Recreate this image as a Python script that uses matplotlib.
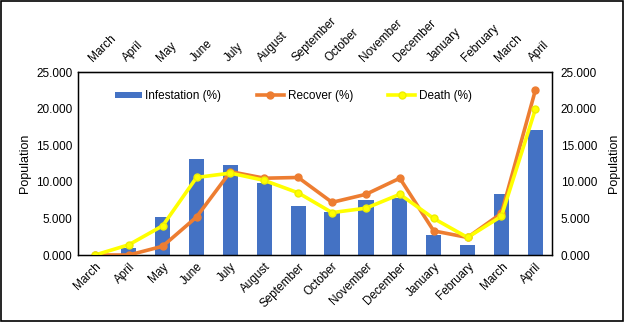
import numpy as np
import matplotlib
matplotlib.use("Agg")
import matplotlib.pyplot as plt
from matplotlib.patches import Rectangle
from matplotlib.ticker import FormatStrFormatter

months = ["March", "April", "May", "June", "July", "August", "September",
          "October", "November", "December", "January", "February", "March", "April"]
infestation = [0.0, 1.0, 5.2, 13.1, 12.3, 9.9, 6.7, 5.9, 7.5, 7.8, 2.7, 1.4, 8.3, 17.1]
recover = [0.0, 0.0, 1.2, 5.2, 11.4, 10.5, 10.6, 7.2, 8.3, 10.5, 3.3, 2.4, 5.7, 22.5]
death = [0.0, 1.4, 4.0, 10.6, 11.2, 10.2, 8.5, 5.8, 6.4, 8.3, 5.0, 2.4, 5.3, 19.9]

plt.rcParams['font.family'] = ['Liberation Sans', 'DejaVu Sans']

fig = plt.figure(figsize=(6.24, 3.22), dpi=100)
ax = fig.add_axes([0.125, 0.208, 0.76, 0.568])

x = np.arange(len(months))
b = ax.bar(x, infestation, width=0.45, color='#4472C4', label='Infestation (%)', zorder=2)
l1, = ax.plot(x, recover, color='#ED7D31', lw=2.6, marker='o', ms=5, label='Recover (%)', zorder=3)
l2, = ax.plot(x, death, color='#FFFF00', lw=2.6, marker='o', ms=5, mec='#EEEE00', label='Death (%)', zorder=4)

ax.set_xlim(-0.5, len(months) - 0.5)
ax.set_ylim(0, 25)
ax.set_yticks(np.arange(0, 26, 5))
ax.yaxis.set_major_formatter(FormatStrFormatter('%.3f'))
ax.set_xticks(x)
ax.set_xticklabels(months, rotation=45, ha='right', rotation_mode='anchor', fontsize=8.5)
ax.tick_params(axis='both', length=0, labelsize=8.5, pad=4)
ax.set_ylabel('Population', fontsize=9)
for s in ax.spines.values():
    s.set_color('black')
    s.set_linewidth(1.0)

# right axis mirror
ax_r = ax.twinx()
ax_r.set_ylim(ax.get_ylim())
ax_r.set_yticks(np.arange(0, 26, 5))
ax_r.yaxis.set_major_formatter(FormatStrFormatter('%.3f'))
ax_r.tick_params(axis='y', length=0, labelsize=8.5, pad=6)
ax_r.set_ylabel('Population', fontsize=9, labelpad=8)

# top axis mirror
ax_t = ax.secondary_xaxis('top')
ax_t.set_xticks(x)
ax_t.set_xticklabels(months, rotation=45, ha='left', rotation_mode='anchor', fontsize=8.5)
ax_t.tick_params(length=0, pad=6)

ax.legend([b, l1, l2], ['Infestation (%)', 'Recover (%)', 'Death (%)'],
          loc='upper left', bbox_to_anchor=(0.055, 0.96), ncol=3, frameon=False,
          fontsize=8.5, columnspacing=3.0, handlelength=2.3, handleheight=0.5,
          handletextpad=0.3)

fig.patches.append(Rectangle((0.002, 0.003), 0.996, 0.994, transform=fig.transFigure,
                             fill=False, edgecolor='black', lw=1.2))

fig.savefig('out.png', dpi=100)
